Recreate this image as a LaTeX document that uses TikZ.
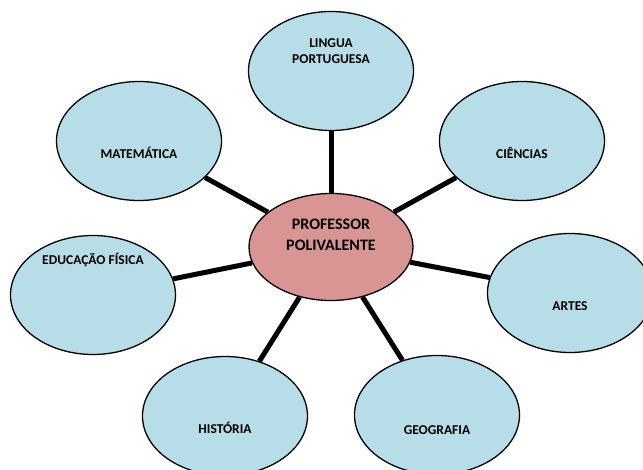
\documentclass[tikz,border=0pt]{standalone}
\usepackage{fontspec}
\setmainfont{Carlito}[BoldFont=Carlito Bold]
\usepackage{tikz}
\usetikzlibrary{shapes.geometric}

\definecolor{aqua}{HTML}{B7DEE8}
\definecolor{rosa}{HTML}{D99594}

\begin{document}
\begin{tikzpicture}[
    x=1pt, y=-1pt,
    el/.style={ellipse, draw, line width=1.3pt, inner sep=0pt},
    sub/.style={el, fill=aqua, minimum width=165pt, minimum height=119pt},
    ctr/.style={el, fill=rosa, minimum width=164pt, minimum height=107pt},
    lab/.style={font=\fontsize{13.5}{16}\selectfont\bfseries, align=center, text=black},
    big/.style={font=\fontsize{16}{21}\selectfont\bfseries, align=center, text=black},
    ln/.style={line width=5pt},
]
    \useasboundingbox (0,0) rectangle (643,470);
    % centro
    \node[ctr, label={[big, name=tprof, yshift=12pt]center:PROFESSOR\\POLIVALENTE}] (prof) at (331,247) {};
    % disciplinas
    \node[sub, label={[lab, name=tlin, yshift=20pt]center:LINGUA\\PORTUGUESA}] (lin) at (331,71) {};
    \node[sub, label={[lab, name=tmat, yshift=-12pt]center:MATEMÁTICA}] (mat) at (139,141) {};
    \node[sub, label={[lab, name=tcie, yshift=-12pt]center:CIÊNCIAS}] (cie) at (522,141) {};
    \node[sub, label={[lab, name=tedu, yshift=35pt]center:EDUCAÇÃO FÍSICA}] (edu) at (93,295) {};
    \node[sub, label={[lab, name=tart, yshift=-13pt]center:ARTES}] (art) at (570,293) {};
    \node[sub, label={[lab, name=this, yshift=-12pt]center:HISTÓRIA}] (his) at (225,416) {};
    \node[sub, label={[lab, name=tgeo, yshift=-15pt]center:GEOGRAFIA}] (geo) at (437,415) {};
    \foreach \n in {lin,mat,cie,edu,art,his,geo}
        \draw[ln] (prof) -- (\n);
\end{tikzpicture}
\end{document}
